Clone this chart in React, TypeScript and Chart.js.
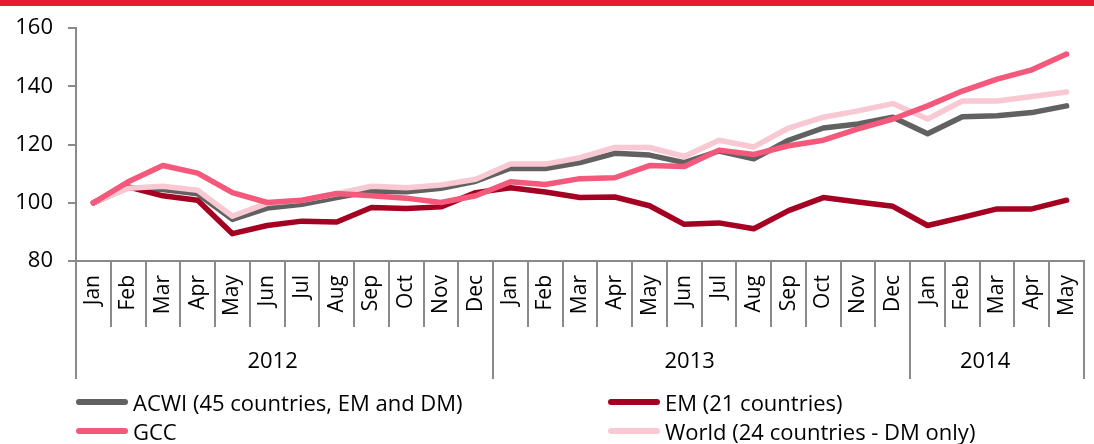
import React, { useEffect, useRef } from "react";
import { Chart, registerables } from "chart.js";

Chart.register(...registerables);

const months = [
  "Jan", "Feb", "Mar", "Apr", "May", "Jun", "Jul", "Aug", "Sep", "Oct", "Nov", "Dec",
  "Jan", "Feb", "Mar", "Apr", "May", "Jun", "Jul", "Aug", "Sep", "Oct", "Nov", "Dec",
  "Jan", "Feb", "Mar", "Apr", "May",
];
const years = ["2012", "2013", "2014"];
const yearStarts = [0, 12, 24, 29];

const acwi = [
  100, 105.2, 104.6, 103.1, 94.3, 98.2, 99.5, 101.8, 104, 103.8, 105, 107.4,
  111.9, 111.8, 113.8, 117, 116.4, 113.8, 117.8, 115.1, 121.5, 125.7, 127.1, 129.4,
  123.7, 129.6, 129.9, 131, 133.3,
];
const em = [
  100, 105.5, 102.4, 100.9, 89.4, 92.2, 93.7, 93.4, 98.4, 98, 98.6, 103.5,
  105.2, 103.7, 101.8, 102, 99, 92.6, 93.1, 91.1, 97.3, 101.8, 100.3, 98.8,
  92.2, 95, 97.9, 97.9, 100.9,
];
const gcc = [
  100, 107.2, 112.8, 110.2, 103.5, 100.1, 100.9, 103.2, 102.4, 101.6, 100.1, 102.4,
  107.2, 106.3, 108.3, 108.6, 112.8, 112.5, 118.1, 116.6, 119.6, 121.5, 125.4, 128.8,
  133.3, 138.4, 142.5, 145.7, 151.1,
];
const world = [
  100, 105, 105.7, 104.3, 95.4, 99.8, 100.9, 103.1, 105.7, 105.2, 106.1, 108.1,
  113.3, 113.3, 115.5, 119, 119, 115.9, 121.5, 119.2, 125.7, 129.4, 131.6, 134.1,
  128.8, 135, 135, 136.5, 138.1,
];

const seriesNames = [
  "ACWI (45 countries, EM and DM)",
  "EM (21 countries)",
  "GCC",
  "World (24 countries - DM only)",
];
const seriesColors = ["#616161", "#A50021", "#F4587A", "#F8C8D3"];

const FONT = "'Open Sans', sans-serif";
const AXIS = "#8a8a8a";

const separators = {
  id: "separators",
  afterDraw(chart: any) {
    const ctx = chart.ctx;
    const xs = chart.scales.x;
    const area = chart.chartArea;
    const n = months.length;
    const bound = (i: number) => {
      if (i <= 0) return area.left;
      if (i >= n) return area.right;
      return (xs.getPixelForValue(i - 1) + xs.getPixelForValue(i)) / 2;
    };
    const top = area.bottom;
    const shortBottom = top + 66;
    const longBottom = xs.bottom - 1;
    ctx.save();
    ctx.strokeStyle = AXIS;
    ctx.lineWidth = 2;
    for (let i = 0; i <= n; i++) {
      const x = Math.round(bound(i));
      const isYear = yearStarts.includes(i);
      ctx.beginPath();
      ctx.moveTo(x, top);
      ctx.lineTo(x, isYear ? longBottom : shortBottom);
      ctx.stroke();
    }
    ctx.fillStyle = "#000";
    ctx.font = `22px ${FONT}`;
    ctx.textAlign = "center";
    ctx.textBaseline = "middle";
    for (let k = 0; k < years.length; k++) {
      const x0 = bound(yearStarts[k]);
      const x1 = bound(yearStarts[k + 1]);
      ctx.fillText(years[k], (x0 + x1) / 2 - 12, top + 101);
    }
    ctx.restore();
  },
};

export default function App() {
  const ref = useRef<HTMLCanvasElement | null>(null);

  useEffect(() => {
    document.body.style.margin = "0";
    const values = [acwi, em, gcc, world];
    const orders = [3, 2, 0, 1];
    const chart = new Chart(ref.current as HTMLCanvasElement, {
      type: "line",
      data: {
        labels: months,
        datasets: values.map((v, i) => ({
          label: seriesNames[i],
          data: v,
          borderColor: seriesColors[i],
          backgroundColor: seriesColors[i],
          borderWidth: 5.5,
          pointRadius: 0,
          tension: 0,
          order: orders[i],
          borderJoinStyle: "round" as const,
          borderCapStyle: "round" as const,
        })),
      },
      options: {
        responsive: false,
        devicePixelRatio: 1,
        animation: false,
        layout: { padding: { top: 22, right: 10, bottom: 64, left: 0 } },
        plugins: { legend: { display: false }, tooltip: { enabled: false } },
        scales: {
          x: {
            offset: true,
            grid: { display: false, drawTicks: false },
            border: { color: AXIS, width: 2 },
            ticks: {
              autoSkip: false,
              minRotation: 90,
              maxRotation: 90,
              padding: 14,
              color: "#000",
              font: { family: FONT, size: 21 },
            },
            afterFit(scale: any) {
              scale.height = 119;
              scale.paddingLeft = 0;
              scale.paddingRight = 0;
            },
          },
          y: {
            min: 80,
            max: 160,
            grid: { drawOnChartArea: false, color: AXIS, lineWidth: 2, tickLength: 8 },
            border: { color: AXIS, width: 2 },
            ticks: {
              stepSize: 20,
              padding: 15,
              color: "#000",
              font: { family: FONT, size: 22 },
            },
            afterFit(scale: any) {
              scale.width = 76;
            },
          },
        },
      },
      plugins: [separators],
    });
    return () => chart.destroy();
  }, []);

  const legendItem = (i: number, left: number, top: number) => (
    <div
      key={i}
      style={{
        position: "absolute",
        left,
        top,
        display: "flex",
        alignItems: "center",
        fontFamily: FONT,
        fontSize: 22,
        color: "#000",
        whiteSpace: "nowrap",
        lineHeight: "28px",
      }}
    >
      <span
        style={{
          display: "inline-block",
          width: 52,
          height: 6,
          borderRadius: 3,
          background: seriesColors[i],
          marginRight: 5,
        }}
      />
      <span>{seriesNames[i]}</span>
    </div>
  );

  return (
    <div style={{ position: "fixed", left: 0, top: 0, width: 1094, height: 444, background: "#fff" }}>
      <div style={{ position: "absolute", left: 0, top: 0, width: 1094, height: 6, background: "#E31E33" }} />
      <canvas ref={ref} width={1094} height={444} style={{ position: "absolute", left: 0, top: 0 }} />
      {legendItem(0, 76, 388)}
      {legendItem(1, 608, 388)}
      {legendItem(2, 76, 417)}
      {legendItem(3, 608, 417)}
    </div>
  );
}
